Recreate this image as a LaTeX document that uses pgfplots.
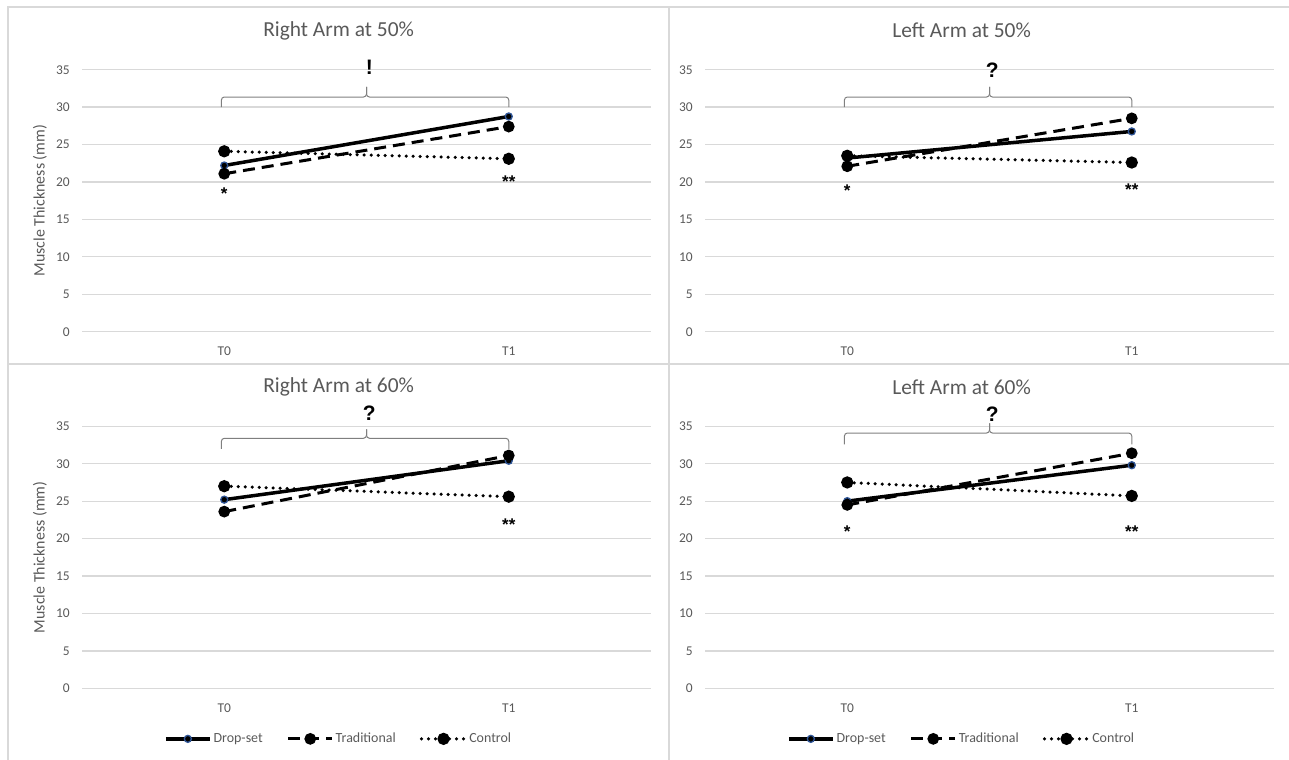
\documentclass[border=0pt]{standalone}
\usepackage{pgfplots}
\pgfplotsset{compat=1.18}
\usepackage{fontspec}
\setmainfont{Carlito}
\newfontfamily\symfont{Liberation Sans}
\definecolor{txtgray}{HTML}{595959}
\definecolor{gridgray}{HTML}{D9D9D9}
\definecolor{bracegray}{HTML}{7F7F7F}
\definecolor{dsblue}{HTML}{2F5597}

\pgfplotsset{
  panel/.style={
    scale only axis, width=569bp, height=262bp, anchor=south west,
    xmin=-0.5, xmax=1.5, ymin=0, ymax=35,
    xtick={0,1}, xticklabels={T0,T1},
    ytick={0,5,...,35},
    ymajorgrids, grid style={gridgray, line width=1.3bp},
    axis line style={draw=none}, major tick length=0pt,
    tick label style={font=\fontsize{13.5}{15}\selectfont, text=txtgray},
    /pgf/number format/assume math mode=true,
    yticklabel style={anchor=east, inner sep=0pt, xshift=-12bp},
    xticklabel style={anchor=center, inner sep=0pt, yshift=-19.5bp},
    title style={at={(axis description cs:0.451,1.126)}, anchor=center,
      font=\fontsize{21.5}{25}\selectfont, text=txtgray},
    clip=false,
    legend image code/.code={\draw[mark repeat=2,mark phase=2,#1] plot coordinates {(0bp,0bp) (22bp,0bp) (44bp,0bp)};},
  },
  ds/.style={black, line width=3.5bp, mark=*, mark size=3.5bp,
    mark options={fill=black, draw=dsblue, line width=1.3bp, solid}},
  tr/.style={black, line width=3bp, dash pattern=on 12bp off 7bp, mark=*, mark size=4.3bp,
    mark options={fill=black, solid}},
  ct/.style={black, line width=3.5bp, line cap=round, dash pattern=on 0bp off 7bp, mark=*, mark size=4.3bp,
    mark options={fill=black, solid}},
  legstyle/.style={legend style={draw=none, fill=none, at={(axis description cs:0.451,-0.193)}, anchor=center,
    legend columns=3, font=\fontsize{14}{16}\selectfont, text=txtgray,
    /tikz/every even column/.append style={column sep=22bp}}, legend cell align=left},
  ylab/.style={ylabel={Muscle Thickness (mm)},
    ylabel style={at={(axis description cs:-0.074,0.5)}, anchor=center, font=\fontsize{16}{18}\selectfont, text=txtgray}},
}
\newcommand{\mybrace}[3]{%
  \draw[bracegray, line width=1bp, rounded corners=3bp] (axis cs:-0.01,#1) -- (axis cs:-0.01,#2) -- (axis cs:0.5,#2) -- (axis cs:0.5,#3);
  \draw[bracegray, line width=1bp, rounded corners=3bp] (axis cs:0.5,#3) -- (axis cs:0.5,#2) -- (axis cs:1.0,#2) -- (axis cs:1.0,#1);}
\newcommand{\mysym}[2]{\node[font=\symfont\bfseries\fontsize{21}{24}\selectfont, text=black] at (axis cs:0.51,#1) {#2};}
\newcommand{\myast}[3]{\node[font=\symfont\bfseries\fontsize{17}{18}\selectfont, text=black, inner sep=0pt] at (axis cs:#1,#2) {#3};}

\begin{document}
\begin{tikzpicture}
\path[use as bounding box] (0bp,0bp) rectangle (1289bp,760bp);
\draw[gridgray, line width=1.3bp] (8bp,0bp) -- (8bp,753bp) -- (1289bp,753bp);
\draw[gridgray, line width=1.3bp] (669bp,0bp) -- (669bp,753bp);
\draw[gridgray, line width=1.3bp] (8bp,396bp) -- (1289bp,396bp);

% Right Arm at 50%
\begin{axis}[panel, ylab, at={(82bp,428.3bp)}, title={Right Arm at 50\%}]
\addplot[ds] coordinates {(0,22.2) (1,28.75)};
\addplot[tr] coordinates {(0,21.1) (1,27.4)};
\addplot[ct] coordinates {(0,24.1) (1,23.1)};
\mybrace{30}{31.35}{32.7}
\mysym{35.3}{!}
\myast{0}{18.4}{*}
\myast{1}{20.0}{**}
\end{axis}

% Left Arm at 50%
\begin{axis}[panel, at={(705bp,428.3bp)}, title={Left Arm at 50\%}]
\addplot[ds] coordinates {(0,23.2) (1,26.75)};
\addplot[tr] coordinates {(0,22.1) (1,28.5)};
\addplot[ct] coordinates {(0,23.5) (1,22.6)};
\mybrace{30}{31.35}{32.7}
\mysym{34.9}{?}
\myast{0}{18.8}{*}
\myast{1}{19.0}{**}
\end{axis}

% Right Arm at 60%
\begin{axis}[panel, ylab, legstyle, at={(82bp,71.7bp)}, title={Right Arm at 60\%}]
\addplot[ds] coordinates {(0,25.2) (1,30.4)};
\addlegendentry{Drop-set}
\addplot[tr] coordinates {(0,23.6) (1,31.1)};
\addlegendentry{Traditional}
\addplot[ct] coordinates {(0,27.0) (1,25.6)};
\addlegendentry{Control}
\mybrace{32.0}{33.4}{34.6}
\mysym{36.8}{?}
\myast{1}{21.8}{**}
\end{axis}

% Left Arm at 60%
\begin{axis}[panel, legstyle, at={(705bp,71.7bp)}, title={Left Arm at 60\%}]
\addplot[ds] coordinates {(0,25.0) (1,29.8)};
\addlegendentry{Drop-set}
\addplot[tr] coordinates {(0,24.5) (1,31.4)};
\addlegendentry{Traditional}
\addplot[ct] coordinates {(0,27.5) (1,25.7)};
\addlegendentry{Control}
\mybrace{32.6}{34.1}{35.4}
\mysym{36.6}{?}
\myast{0}{20.9}{*}
\myast{1}{20.9}{**}
\end{axis}
\end{tikzpicture}
\end{document}
